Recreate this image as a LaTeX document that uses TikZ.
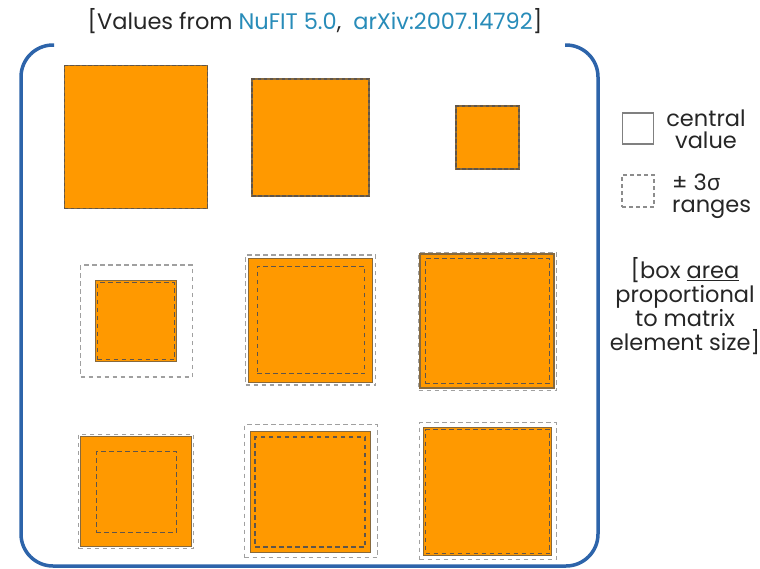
\documentclass[tikz,border=0pt]{standalone}
\usepackage{fontspec}
\setmainfont{Poppins}
\newfontfamily\grk{Noto Sans}
\definecolor{orng}{RGB}{255,153,0}
\definecolor{cborder}{RGB}{135,105,60}
\definecolor{lgray}{RGB}{160,160,160}
\definecolor{dgray}{RGB}{95,85,75}
\definecolor{lnk}{RGB}{40,140,185}
\definecolor{brk}{RGB}{45,100,170}
\begin{document}
\begin{tikzpicture}[x=1pt,y=-1pt,
  sq/.style={rectangle, inner sep=0pt, outer sep=0pt, minimum width=#1, minimum height=#1},
  cval/.style={draw=cborder, fill=orng, line width=1.1pt},
  rngout/.style={draw=lgray, line width=1.3pt, dash pattern=on 4.5pt off 3.5pt},
  rngin/.style={draw=dgray, line width=1.3pt, dash pattern=on 4.5pt off 3.5pt},
  edgedash/.style={draw=dgray, line width=1.8pt, dash pattern=on 3.5pt off 2.5pt},
  txt/.style={font=\fontsize{22.5}{24}\selectfont, inner sep=0pt, text=black!85},
  bracketline/.style={draw=brk, line width=3.5pt, rounded corners=32pt}]
\useasboundingbox (0,0) rectangle (760,568);
\path[fill=white] (0,0) rectangle (760,568);

% title
\node[txt] (title) at (315,21) {[Values from \textcolor{lnk}{NuFIT 5.0},\ \ \textcolor{lnk}{arXiv:2007.14792}]};

% bracket
\draw[bracketline] (54,45) -- (21,45) -- (21,566) -- (598,566) -- (598,45) -- (565,45);

% row 1
\node[cval, sq=143] (c11) at (136,137) {};
\node[edgedash, sq=143] (i11) at (136,137) {};
\node[cval, sq=117] (c12) at (310.5,137.5) {};
\node[edgedash, sq=117] (i12) at (310.5,137.5) {};
\node[cval, sq=63] (c13) at (487.5,137.5) {};
\node[edgedash, sq=63] (i13) at (487.5,137.5) {};

% row 2
\node[rngout, sq=112] (o21) at (136.5,321) {};
\node[cval, sq=81] (c21) at (136,321) {};
\node[rngin, sq=77] (i21) at (136,321) {};
\node[rngout, sq=130] (o22) at (310.5,320) {};
\node[cval, sq=123.5] (c22) at (310.5,320.5) {};
\node[rngin, sq=107.5] (i22) at (311,320) {};
\node[rngout, sq=138] (o23) at (487.5,321.5) {};
\node[cval, sq=134] (c23) at (487,321) {};
\node[rngin, sq=124.5] (i23) at (487.5,321) {};

% row 3
\node[rngout, sq=114.5] (o31) at (136,491.5) {};
\node[cval, sq=110.5] (c31) at (136,491.5) {};
\node[rngin, sq=80.5] (i31) at (136.5,492) {};
\node[rngout, sq=133] (o32) at (311,491) {};
\node[cval, sq=120.5] (c32) at (310.5,492) {};
\node[rngin, sq=110] (i32) at (310,492) {};
\node[rngout, sq=137] (o33) at (488,491) {};
\node[cval, sq=128] (c33) at (487.5,491.5) {};
\node[rngin, sq=124] (i33) at (487.5,491.5) {};

% legend
\node[sq=31, draw=black!50, line width=1.2pt] (lc) at (638,128.5) {};
\node[txt, align=center, font=\fontsize{22.5}{22}\selectfont] (lct) at (706,129) {central\\value};
\node[sq=32, draw=black!45, line width=1.2pt, dash pattern=on 4pt off 3pt] (lr) at (638,191) {};
\node[txt, align=left, anchor=west, font=\fontsize{22.5}{22}\selectfont] (lrt) at (672,196) {± 3{\grk σ}\\ranges};
\node[txt, align=center] (note) at (685,306) {[box \underline{area}\\proportional\\to matrix\\element size]};
\end{tikzpicture}
\end{document}
